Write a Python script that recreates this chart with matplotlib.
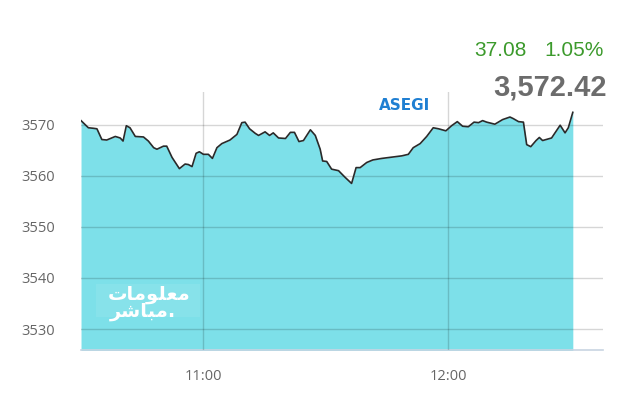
#!/usr/bin/env python3
"""Intraday ASEGI index chart (10:30 - 12:30)."""

import matplotlib

matplotlib.use("Agg")
import matplotlib.pyplot as plt
from matplotlib.patches import Rectangle
from matplotlib.ticker import FixedLocator, FuncFormatter

# minutes after 10:00 and index level
minutes = [
    30.0, 31.8, 33.0, 33.9, 35.1, 36.3, 38.4, 39.6, 40.3, 41.1, 42.0, 43.3,
    45.3, 46.5, 47.8, 48.6, 50.2, 51.0, 52.3, 54.1, 55.5, 56.3, 57.2, 58.2,
    59.0, 60.0, 61.2, 62.2, 63.3, 64.5, 66.5, 68.2, 69.4, 70.2, 71.3, 72.7,
    73.5, 75.1, 76.2, 77.1, 78.4, 80.1, 81.3, 82.3, 83.4, 84.5, 86.2, 87.4,
    88.6, 89.2, 90.2, 91.4, 93.1, 94.7, 96.3, 97.4, 98.4, 100.0, 101.5, 103.7,
    108.6, 110.2, 111.4, 113.1, 114.7, 116.3, 117.6, 119.4, 120.8, 122.2, 123.5,
    124.9, 126.3, 127.4, 128.4, 129.4, 131.4, 133.3, 135.1, 135.9, 137.2, 138.4,
    139.2, 140.2, 141.5, 142.3, 143.1, 145.3, 147.4, 148.6, 149.4, 150.5,
]
levels = [
    3570.8, 3569.4, 3569.3, 3569.2, 3567.1, 3567.0, 3567.7, 3567.4, 3566.8,
    3569.8, 3569.4, 3567.7, 3567.6, 3566.8, 3565.5, 3565.2, 3565.8, 3565.8,
    3563.6, 3561.4, 3562.3, 3562.2, 3561.8, 3564.4, 3564.7, 3564.2, 3564.2,
    3563.4, 3565.5, 3566.3, 3567.0, 3568.1, 3570.4, 3570.5, 3569.2, 3568.3,
    3567.9, 3568.6, 3567.9, 3568.4, 3567.4, 3567.3, 3568.5, 3568.5, 3566.7,
    3566.9, 3569.0, 3567.9, 3565.2, 3562.9, 3562.8, 3561.3, 3561.0, 3559.7,
    3558.5, 3561.6, 3561.6, 3562.6, 3563.1, 3563.4, 3563.9, 3564.2, 3565.5,
    3566.3, 3567.7, 3569.4, 3569.2, 3568.8, 3569.8, 3570.6, 3569.7, 3569.6,
    3570.5, 3570.4, 3570.8, 3570.5, 3570.1, 3571.0, 3571.5, 3571.2, 3570.6,
    3570.5, 3566.1, 3565.7, 3566.9, 3567.5, 3566.9, 3567.4, 3569.9, 3568.4,
    3569.4, 3572.42,
]
y_ticks = [3530, 3540, 3550, 3560, 3570]
x_ticks = [60, 120]

index_name = "ASEGI"
change = "37.08"
change_pct = "1.05%"
last_value = "3,572.42"
# "معلومات" / "مباشر." in shaped presentation forms, visual order
watermark = ["\ufe95\ufe8e\ufee3\ufeee\ufee0\ufecc\ufee3", "\ufeae\ufeb7\ufe8e\ufe92\ufee3."]

FILL = "#7de0e9"
LABEL = "#666666"


def hhmm(m, _pos=None):
    m = int(round(m))
    return f"{10 + m // 60}:{m % 60:02d}"


fig = plt.figure(figsize=(6.4, 4.0), dpi=100)
ax = fig.add_axes([0.1266, 0.125, 0.8156, 0.645])

ax.fill_between(minutes, levels, 3500, color=FILL, lw=0, zorder=1)
ax.plot(minutes, levels, color="#2a2a2a", lw=1.2, zorder=3)

ax.set_xlim(30, 157.9)
ax.set_ylim(3525.9, 3576.4)
ax.xaxis.set_major_locator(FixedLocator(x_ticks))
ax.xaxis.set_major_formatter(FuncFormatter(hhmm))
ax.set_yticks(y_ticks)
ax.set_axisbelow(False)
ax.grid(True, color="#000000", alpha=0.16, lw=1.0, zorder=2)

for side in ("left", "right", "top"):
    ax.spines[side].set_visible(False)
ax.spines["bottom"].set_color("#c8d4e2")
ax.spines["bottom"].set_linewidth(1.2)
ax.tick_params(length=0, colors=LABEL, labelsize=10.5)
ax.tick_params(axis="y", pad=19)
ax.tick_params(axis="x", pad=14)
for lab in ax.get_xticklabels() + ax.get_yticklabels():
    lab.set_family("Open Sans")

# watermark logo
ax.add_patch(Rectangle((33.7, 3532.3), 25.5, 6.6, facecolor="white",
                       alpha=0.08, lw=0, zorder=2))
ax.text(36.6, 3536.8, watermark[0], ha="left", va="center", color="white",
        fontsize=14, fontweight="bold", family="DejaVu Sans", zorder=4)
ax.text(37.0, 3533.4, watermark[1], ha="left", va="center", color="white",
        fontsize=14, fontweight="bold", family="DejaVu Sans", zorder=4)

fig.text(405 / 640, 1 - 105 / 400, index_name, ha="center", va="center",
         color="#1f7fd2", fontsize=11, fontweight="bold", family="DejaVu Sans")
fig.text(527 / 640, 1 - 50 / 400, change, ha="right", va="center",
         color="#3c9a2c", fontsize=15, family="Liberation Sans")
fig.text(604 / 640, 1 - 50 / 400, change_pct, ha="right", va="center",
         color="#3c9a2c", fontsize=15, family="Liberation Sans")
fig.text(607 / 640, 1 - 88 / 400, last_value, ha="right", va="center",
         color="#6c6c6c", fontsize=21, fontweight="bold", family="Liberation Sans")

fig.savefig("out.png", dpi=100)
plt.close(fig)
